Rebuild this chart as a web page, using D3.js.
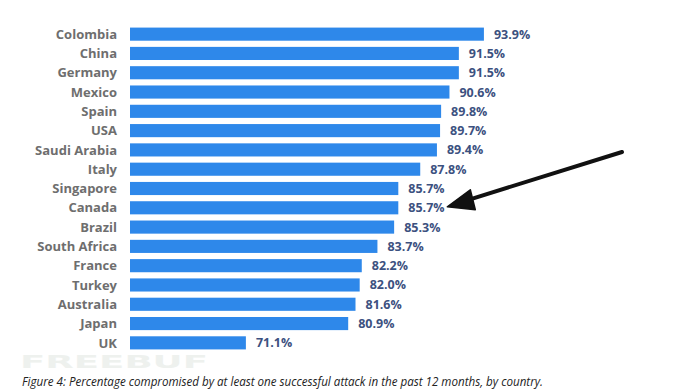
<!DOCTYPE html>
<meta charset="utf-8">
<script src="https://d3js.org/d3.v7.min.js"></script>
<style>
  body { margin: 0; background: #fff; }
</style>
<div id="chart"></div>
<script>
// data
var countries = ["Colombia", "China", "Germany", "Mexico", "Spain", "USA", "Saudi Arabia", "Italy",
  "Singapore", "Canada", "Brazil", "South Africa", "France", "Turkey", "Australia", "Japan", "UK"];
var values = [93.9, 91.5, 91.5, 90.6, 89.8, 89.7, 89.4, 87.8, 85.7, 85.7, 85.3, 83.7, 82.2, 82.0, 81.6, 80.9, 71.1];
var caption = "Figure 4: Percentage compromised by at least one successful attack in the past 12 months, by country.";

var width = 690, height = 390;

var svg = d3.select("#chart").append("svg")
  .attr("width", width)
  .attr("height", height);

// faint watermark
svg.append("text")
  .attr("x", 20).attr("y", 368)
  .style("font-family", "DejaVu Sans")
  .style("font-weight", "bold")
  .style("font-size", "17px")
  .style("fill", "#eef1ee")
  .attr("textLength", 188)
  .attr("lengthAdjust", "spacingAndGlyphs")
  .text("FREEBUF");

var data = countries.map(function(c, i) { return {country: c, value: values[i]}; });

// x starts at 60, not 0
var x = d3.scaleLinear()
  .domain([60, 100])
  .range([130, 547.6]);

var y = d3.scaleBand()
  .domain(countries)
  .range([24.5, 352.5])
  .paddingInner(0.32)
  .paddingOuter(0.16);

svg.selectAll(".bar")
  .data(data)
  .enter().append("rect")
    .attr("class", "bar")
    .attr("x", x(60))
    .attr("y", function(d) { return y(d.country); })
    .attr("width", function(d) { return x(d.value) - x(60); })
    .attr("height", y.bandwidth())
    .style("fill", "#2e88ea");

// country labels
svg.selectAll(".name")
  .data(data)
  .enter().append("text")
    .attr("class", "name")
    .attr("x", 117)
    .attr("y", function(d) { return y(d.country) + y.bandwidth() / 2; })
    .attr("dy", "0.36em")
    .attr("text-anchor", "end")
    .style("font-family", "Open Sans")
    .style("font-weight", "bold")
    .style("font-size", "13px")
    .style("fill", "#6e6e6e")
    .text(function(d) { return d.country; });

// value labels
svg.selectAll(".val")
  .data(data)
  .enter().append("text")
    .attr("class", "val")
    .attr("x", function(d) { return x(d.value) + 10; })
    .attr("y", function(d) { return y(d.country) + y.bandwidth() / 2; })
    .attr("dy", "0.36em")
    .style("font-family", "Open Sans")
    .style("font-weight", "bold")
    .style("font-size", "12.5px")
    .style("fill", "#3c5180")
    .text(function(d) { return d.value.toFixed(1) + "%"; });

// the hand drawn arrow pointing at Canada
var tip = [x(values[9]) + 49, y("Canada") + y.bandwidth() / 2 - 1];
svg.append("line")
  .attr("x1", 622).attr("y1", 152)
  .attr("x2", tip[0] + 18).attr("y2", tip[1] - 6)
  .style("stroke", "#111")
  .style("stroke-width", 4)
  .style("stroke-linecap", "round");
svg.append("path")
  .attr("d", "M" + tip[0] + "," + tip[1] + " L" + (tip[0] + 23) + "," + (tip[1] - 17) +
    " L" + (tip[0] + 28) + "," + (tip[1] + 3) + " Z")
  .style("fill", "#111")
  .style("stroke", "#111")
  .style("stroke-width", 1.5)
  .style("stroke-linejoin", "round");

// caption
svg.append("text")
  .attr("x", 22).attr("y", 386)
  .style("font-family", "Open Sans")
  .style("font-style", "italic")
  .style("font-size", "12.5px")
  .style("fill", "#222")
  .attr("textLength", 521)
  .attr("lengthAdjust", "spacingAndGlyphs")
  .text(caption);
</script>
